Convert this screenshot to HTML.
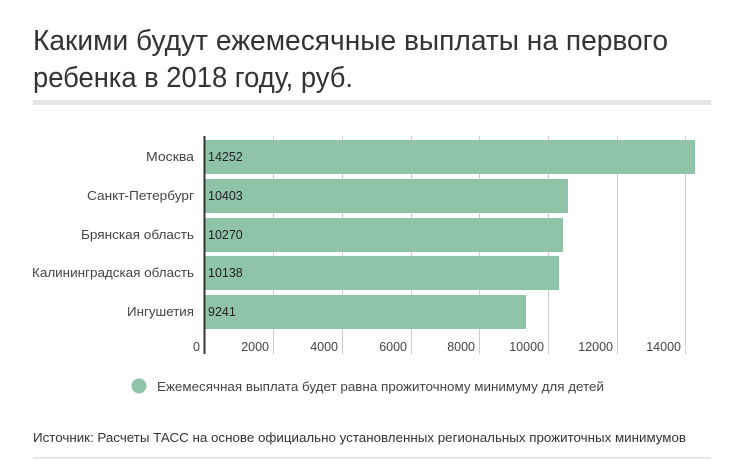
<!DOCTYPE html>
<html><head><meta charset="utf-8"><style>body{margin:0;background:#fff}svg{display:block}</style></head>
<body>
<svg width="747" height="470" xmlns="http://www.w3.org/2000/svg" font-family="Liberation Sans, sans-serif">
<text x="33" y="50" font-size="29" fill="#333" textLength="635" lengthAdjust="spacingAndGlyphs">Какими будут ежемесячные выплаты на первого</text>
<text x="33" y="87" font-size="29" fill="#333" textLength="320" lengthAdjust="spacingAndGlyphs">ребенка в 2018 году, руб.</text>
<rect x="33" y="100" width="678" height="5" fill="#e6e6e6"/>
<g stroke="#ccc" stroke-width="1">
<line x1="273.5" y1="136" x2="273.5" y2="354"/><line x1="342.5" y1="136" x2="342.5" y2="354"/>
<line x1="411.5" y1="136" x2="411.5" y2="354"/><line x1="479.5" y1="136" x2="479.5" y2="354"/>
<line x1="548.5" y1="136" x2="548.5" y2="354"/><line x1="617.5" y1="136" x2="617.5" y2="354"/>
<line x1="685.5" y1="136" x2="685.5" y2="354"/>
</g>
<g fill="#8fc4a8">
<rect x="204" y="140" width="491" height="34"/>
<rect x="204" y="179" width="364" height="34"/>
<rect x="204" y="218" width="359" height="34"/>
<rect x="204" y="256" width="355" height="34"/>
<rect x="204" y="295" width="322" height="34"/>
</g>
<line x1="204.5" y1="136" x2="204.5" y2="354" stroke="#333" stroke-width="2"/>
<g font-size="12.5" fill="#222">
<text x="208" y="161">14252</text><text x="208" y="200">10403</text><text x="208" y="239">10270</text><text x="208" y="277">10138</text><text x="208" y="316">9241</text>
</g>
<g font-size="12.5" fill="#444" text-anchor="end">
<text x="194" y="161" textLength="48" lengthAdjust="spacingAndGlyphs">Москва</text>
<text x="194" y="200" textLength="107" lengthAdjust="spacingAndGlyphs">Санкт-Петербург</text>
<text x="194" y="239" textLength="113" lengthAdjust="spacingAndGlyphs">Брянская область</text>
<text x="194" y="277" textLength="162" lengthAdjust="spacingAndGlyphs">Калининградская область</text>
<text x="194" y="316" textLength="67" lengthAdjust="spacingAndGlyphs">Ингушетия</text>
<text x="200" y="351">0</text><text x="269" y="351">2000</text><text x="338" y="351">4000</text><text x="407" y="351">6000</text><text x="475" y="351">8000</text><text x="544" y="351">10000</text><text x="613" y="351">12000</text><text x="681" y="351">14000</text>
</g>
<circle cx="139" cy="386" r="7.5" fill="#8fc4a8"/>
<text x="157" y="391" font-size="13" fill="#444" textLength="447" lengthAdjust="spacingAndGlyphs">Ежемесячная выплата будет равна прожиточному минимуму для детей</text>
<text x="33" y="442" font-size="13" fill="#333" textLength="653" lengthAdjust="spacingAndGlyphs">Источник: Расчеты ТАСС на основе официально установленных региональных прожиточных минимумов</text>
<rect x="33" y="457" width="678" height="1.5" fill="#ddd"/>
</svg>
</body></html>
